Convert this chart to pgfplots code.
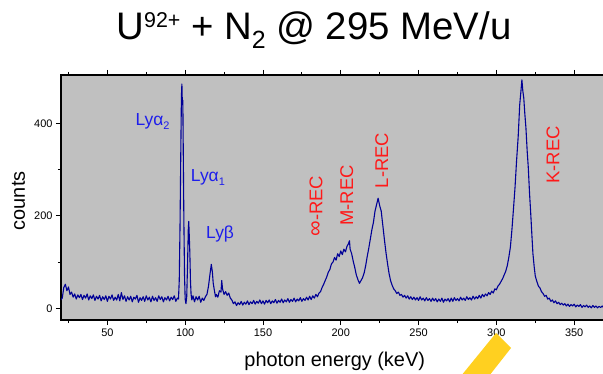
\documentclass[border=0pt]{standalone}
\usepackage{pgfplots}
\pgfplotsset{compat=1.18}
\usepackage{fontspec}
\setmainfont{Liberation Sans}
\definecolor{bgg}{RGB}{192,192,192}
\definecolor{specblue}{RGB}{0,0,150}
\definecolor{lblue}{RGB}{30,30,235}
\definecolor{lred}{RGB}{255,25,25}
\definecolor{yel}{RGB}{255,208,32}
\begin{document}
\begin{tikzpicture}
\useasboundingbox (0,0) rectangle (603bp,374bp);
\clip (0,0) rectangle (603bp,374bp);
\node[anchor=base, inner sep=0pt, font=\fontsize{38.5}{42}\selectfont] at (314bp,334bp) {U\raisebox{12bp}{\fontsize{21.5}{22}\selectfont 92+} + N\raisebox{-8.5bp}{\fontsize{25}{25}\selectfont 2} @ 295 MeV/u};
\begin{axis}[
  at={(61bp,54bp)}, anchor=south west,
  scale only axis, width=547.4bp, height=245bp,
  xmin=20.2, xmax=372, ymin=-25.3, ymax=504.4,
  axis background/.style={fill=bgg},
  axis line style={line width=1.2bp, black},
  tick align=outside,
  major tick length=5bp, minor tick length=3bp,
  xtick={50,100,...,350}, minor xtick={25,75,...,375},
  ytick={0,200,400}, minor ytick={100,300},
  tick style={black, line width=0.8bp},
  ytick pos=left,
  /pgf/number format/assume math mode=true,
  ticklabel style={font=\fontsize{11}{13}\selectfont},
  xlabel={photon energy (keV)}, ylabel={counts},
  label style={font=\fontsize{20}{24}\selectfont},
  xlabel style={at={(axis description cs:0.5,-0.1878)}, anchor=base},
  ylabel style={at={(axis description cs:-0.0658,0.4865)}, anchor=base},
]
\addplot[specblue, line width=1.1bp, line join=round] coordinates {
(20,18)(21,22)(22,45)(23,52)(24,38)(25,46)(26,30)(27,35)(28,24)(29,31)
(30,20)(31,29)(32,23)(33,30)(34,19)(35,28)(36,22)(37,31)(38,18)(39,27)
(40,21)(41,29)(42,17)(43,26)(44,20)(45,28)(46,16)(47,25)(48,19)(49,27)
(50,15)(51,26)(52,20)(53,29)(54,17)(55,24)(56,18)(57,30)(58,16)(59,34)
(60,19)(61,27)(62,15)(63,25)(64,18)(65,26)(66,14)(67,24)(68,20)(69,28)
(70,13)(71,23)(72,17)(73,25)(74,15)(75,27)(76,18)(77,24)(78,14)(79,26)
(80,17)(81,23)(82,15)(83,27)(84,19)(85,25)(86,14)(87,23)(88,18)(89,26)
(90,16)(91,24)(92,19)(93,27)(94,15)(95,22)(95.7,20)(96.2,60)(96.7,180)
(97.2,340)(97.6,460)(97.9,485)(98.2,440)(98.5,450)(98.8,330)(99.2,180)
(99.6,70)(100.0,20)(100.5,10)(101.0,25)(101.5,90)(102.0,170)(102.3,188)
(102.6,160)(103.0,120)(103.4,60)(103.8,30)(104.3,18)(105,27)(106,14)
(107,25)(108,18)(109,26)(110,13)(111,22)(112,17)(113,25)(114,30)(115,48)
(116,75)(116.8,95)(117.5,78)(118,55)(118.8,38)(119.5,25)(120,30)(121,24)
(122,38)(123,35)(123.5,60)(124,42)(125,30)(126,36)(127,28)(128,33)(129,22)
(130,18)(131,10)(132,14)(133,6)(134,12)(135,8)(136,15)(137,7)(138,13)(139,9)
(140,16)(141,8)(142,14)(143,10)(144,17)(145,9)(146,15)(147,11)(148,18)(149,10)
(150,16)(151,9)(152,17)(153,12)(154,18)(155,10)(156,16)(157,12)(158,19)(159,11)
(160,17)(161,13)(162,20)(163,12)(164,18)(165,14)(166,21)(167,13)(168,19)(169,15)
(170,22)(171,14)(172,20)(173,16)(174,23)(175,15)(176,21)(177,17)(178,24)(179,18)
(180,26)(181,19)(182,27)(183,22)(184,30)(185,25)(186,33)(187,36)(188,45)(189,52)
(190,60)(191,68)(192,78)(193,84)(194,96)(195,100)(196,110)(197,104)(198,118)(199,112)
(200,124)(201,116)(202,128)(203,122)(204,134)(205,140)(205.6,146)(206,128)(207,118)(208,102)
(209,88)(210,72)(211,62)(212,54)(213,60)(214,66)(215,76)(216,92)(217,112)(218,130)
(219,150)(220,170)(221,186)(222,210)(223,224)(224,238)(225,222)(226,210)(227,180)(228,150)
(229,122)(230,98)(231,76)(232,60)(233,50)(234,42)(235,38)(236,32)(237,35)(238,28)
(239,30)(240,24)(241,28)(242,22)(243,27)(244,20)(245,25)(246,19)(247,24)(248,18)
(249,23)(250,17)(251,25)(252,18)(253,22)(254,16)(255,23)(256,17)(257,21)(258,15)
(259,22)(260,16)(261,21)(262,14)(263,20)(264,15)(265,22)(266,13)(267,20)(268,16)
(269,21)(270,14)(271,22)(272,15)(273,23)(274,17)(275,21)(276,16)(277,24)(278,18)
(279,22)(280,17)(281,25)(282,19)(283,23)(284,18)(285,26)(286,20)(287,25)(288,21)
(289,28)(290,22)(291,30)(292,25)(293,31)(294,27)(295,34)(296,30)(297,37)(298,33)
(299,42)(300,40)(301,48)(302,52)(303,58)(304,64)(305,72)(306,80)(307,92)(308,110)
(309,132)(310,170)(311,215)(312,262)(313,320)(314,370)(315,440)(315.8,470)(316.4,494)(317,470)
(317.6,455)(318.3,420)(319,390)(319.8,340)(320.5,305)(321.3,250)(322,210)(322.8,160)(323.5,118)(324.3,90)
(325,70)(326,58)(327,48)(328,44)(329,36)(330,32)(331,26)(332,28)(333,20)(334,22)
(335,15)(336,18)(337,12)(338,16)(339,10)(340,13)(341,8)(342,11)(343,7)(344,10)
(345,5)(346,9)(347,4)(348,8)(349,5)(350,9)(351,3)(352,7)(353,4)(354,8)
(355,2)(356,6)(357,3)(358,7)(359,2)(360,5)(361,1)(362,6)(363,2)(364,5)
(365,1)(366,4)(367,2)(368,5)(369,1)(370,4)(371,2)(372,3)
};
\node[lblue, anchor=base west, inner sep=0pt, font=\fontsize{17.5}{20}\selectfont] at (axis cs:68,396) {Lyα\raisebox{-4bp}{\fontsize{11}{12}\selectfont 2}};
\node[lblue, anchor=base west, inner sep=0pt, font=\fontsize{17.5}{20}\selectfont] at (axis cs:103.6,274) {Lyα\raisebox{-4bp}{\fontsize{11}{12}\selectfont 1}};
\node[lblue, anchor=base west, inner sep=0pt, font=\fontsize{17.5}{20}\selectfont] at (axis cs:113.4,150) {Lyβ};
\node[lred, rotate=90, inner sep=0pt, font=\fontsize{18.5}{20}\selectfont] at (axis cs:184.1,221) {\raisebox{0.5bp}{\fontsize{22}{22}\selectfont ∞}-REC};
\node[lred, rotate=90, inner sep=0pt, font=\fontsize{18.5}{20}\selectfont] at (axis cs:203.8,244) {M-REC};
\node[lred, rotate=90, inner sep=0pt, font=\fontsize{18.5}{20}\selectfont] at (axis cs:226.3,319.6) {L-REC};
\node[lred, rotate=90, inner sep=0pt, font=\fontsize{18.5}{20}\selectfont] at (axis cs:336.4,331.5) {K-REC};
\end{axis}
\fill[yel] (496bp,41bp) -- (511bp,26bp) -- (489bp,-2bp) -- (461bp,-2bp) -- cycle;
\end{tikzpicture}
\end{document}
